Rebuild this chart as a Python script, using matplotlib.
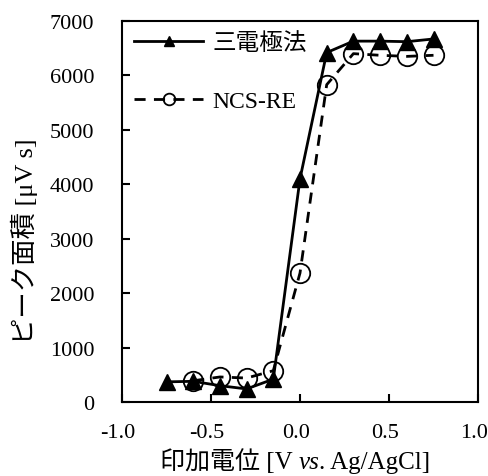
import matplotlib.pyplot as plt
from matplotlib.transforms import ScaledTranslation

plt.rcParams['font.family'] = ['Liberation Serif', 'Noto Sans CJK JP']

# applied potential [V vs. Ag/AgCl]
x_three = [-0.75, -0.6, -0.45, -0.3, -0.15, 0.0, 0.15, 0.3, 0.45, 0.6, 0.75]
y_three = [370, 380, 300, 240, 420, 4100, 6420, 6630, 6630, 6620, 6670]

x_ncs = [-0.6, -0.45, -0.3, -0.15, 0.0, 0.15, 0.3, 0.45, 0.6, 0.75]
y_ncs = [390, 460, 440, 575, 2370, 5830, 6400, 6370, 6350, 6370]

fig = plt.figure(figsize=(4.89, 4.77), dpi=100)
ax = fig.add_axes([122 / 489, 1 - 403 / 477, 356 / 489, 381 / 477])

ax.plot(x_three, y_three, color="black", linewidth=2, marker="^", markersize=11,
        label="三電極法")
ax.plot(x_ncs, y_ncs, color="black", linewidth=2, linestyle=(0, (4, 3)), marker="o",
        markersize=14, markerfacecolor="none", markeredgewidth=1.3, label="NCS-RE")

ax.set_xlim(-1.0, 1.0)
ax.set_ylim(0, 7000)
ax.set_xticks([-1.0, -0.5, 0.0, 0.5, 1.0])
ax.set_xticklabels(["-1.0", "-0.5", "0.0", "0.5", "1.0"])
ax.set_yticks(range(0, 7001, 1000))

for side in ("top", "bottom", "left", "right"):
    ax.spines[side].set_linewidth(1.5)
ax.tick_params(direction="in", length=6, width=1.5, labelsize=16)
ax.tick_params(axis="y", pad=20)
ax.tick_params(axis="x", pad=15)

# tick labels sit a little left of their ticks in the original
shift_left = ScaledTranslation(-4 / 100, 0, fig.dpi_scale_trans)
for lab in ax.get_xticklabels():
    lab.set_transform(lab.get_transform() + shift_left)

ax.set_ylabel("ピーク面積 [μV s]", fontsize=19)
ax.yaxis.set_label_coords(-0.237, 0.425)

ax.legend(loc="upper left", bbox_to_anchor=(0.035, 0.97), frameon=False, fontsize=17,
          handlelength=2.9, labelspacing=1.55, borderaxespad=0, borderpad=0,
          handletextpad=0.4, markerscale=0.6)

# x label in pieces so that "vs" can be italic next to the CJK text
r = fig.canvas.get_renderer()
pieces = [("印加電位 [V ", "normal"), ("vs", "italic"), (". Ag/AgCl]", "normal")]
texts = []
xpos = 0
for s, st in pieces:
    t = fig.text(xpos, 8 / 477, s, fontsize=18, style=st, va="baseline")
    xpos = t.get_window_extent(r).x1 / fig.bbox.width
    texts.append(t)
shift = (295 / 489) - xpos / 2
for t in texts:
    t.set_x(t.get_position()[0] + shift)

fig.savefig("out.png", dpi=100)
